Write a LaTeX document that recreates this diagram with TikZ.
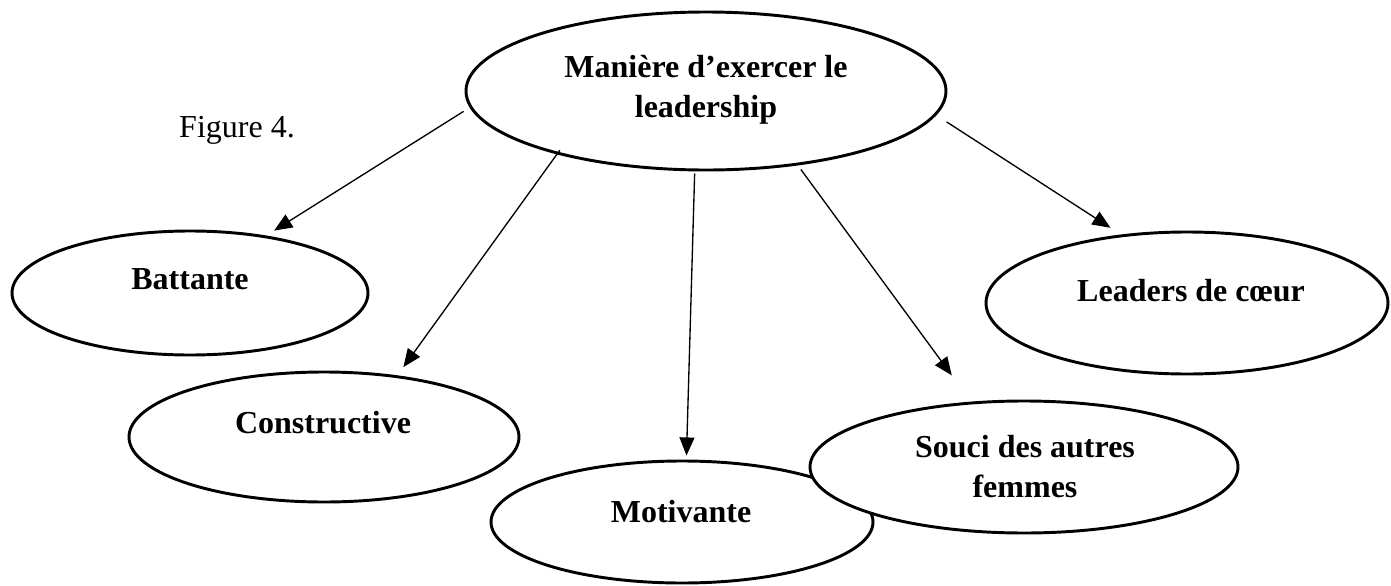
\documentclass[tikz,border=0pt]{standalone}
\usepackage{fontspec}
\setmainfont{Liberation Serif}
\usetikzlibrary{shapes.geometric,arrows.meta}
\begin{document}
\begin{tikzpicture}[x=0.375pt,y=-0.375pt,
  oval/.style={draw, ellipse, line width=1.1pt, fill=white, inner sep=0pt},
  lbl/.style={font=\bfseries\fontsize{12}{15}\selectfont, align=center, inner sep=0pt},
  arr/.style={-{Triangle[length=6.8pt,width=5.6pt]}, line width=0.5pt}]
\useasboundingbox (0,0) rectangle (1391,586);
% ellipses
\node[oval, minimum width=180pt, minimum height=59.25pt] (top) at (706,91) {};
\node[oval, minimum width=133.5pt, minimum height=46.5pt] (batt) at (190,293) {};
\node[oval, minimum width=146.25pt, minimum height=48.75pt] (cons) at (324,437) {};
\node[oval, minimum width=143.25pt, minimum height=45.75pt] (motiv) at (682,522) {};
\node[oval, minimum width=160.5pt, minimum height=49.5pt] (souci) at (1024,467) {};
\node[oval, minimum width=150.75pt, minimum height=53.25pt] (lead) at (1187,303) {};
% texts
\node[lbl] (toptext) at (706,90) {Manière d’exercer le\\leadership};
\node[lbl, anchor=base] (batttext) at (190,289) {Battante};
\node[lbl, anchor=base] (constext) at (323,433) {Constructive};
\node[lbl, anchor=base] (motivtext) at (681,522) {Motivante};
\node[lbl] (soucitext) at (1025,467) {Souci des autres\\femmes};
\node[lbl, anchor=base] (leadtext) at (1191,301) {Leaders de cœur};
\node[font=\fontsize{12}{15}\selectfont, inner sep=0pt] (fig) at (237,130) {Figure 4.};
% arrows
\draw[arr, shorten <=2.7pt, shorten >=3.5pt] (top.184) -- (batt.37);
\draw[arr, shorten <=-1.9pt, shorten >=3.8pt] (top.203.5) -- (cons.40);
\draw[arr, shorten <=0.8pt, shorten >=1.5pt] (top.262) -- (motiv.86);
\draw[arr, shorten <=1.9pt, shorten >=12.2pt] (top.321.6) -- (souci.129.7);
\draw[arr, shorten <=4.6pt, shorten >=4.6pt] (top.354.3) -- (lead.134.2);
\end{tikzpicture}
\end{document}
